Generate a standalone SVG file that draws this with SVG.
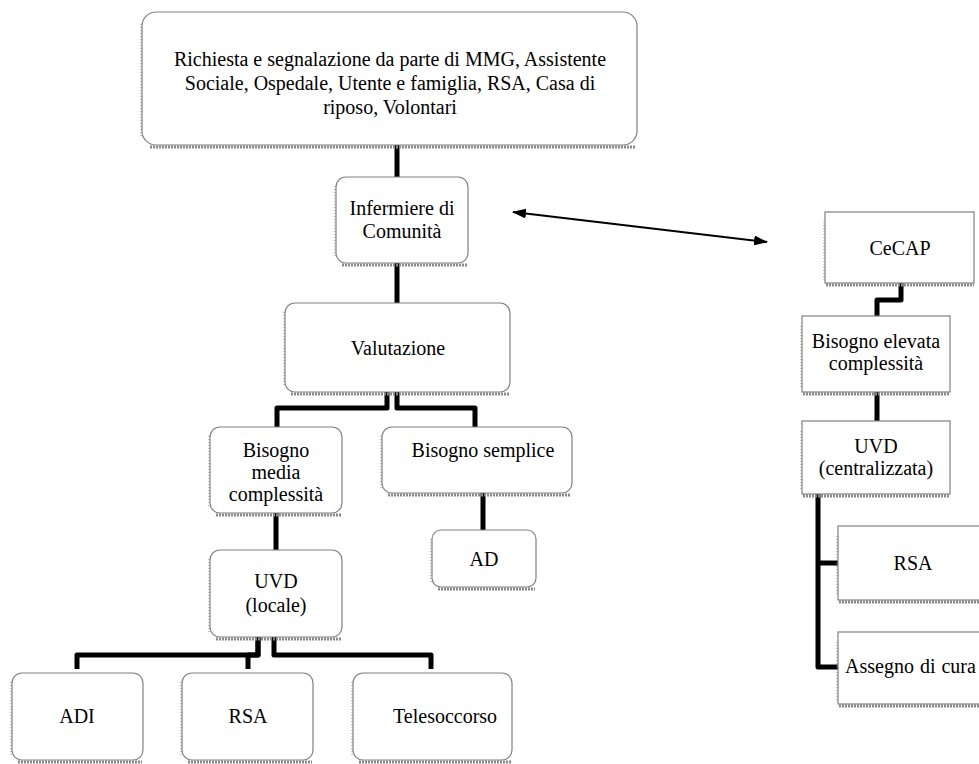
<svg xmlns="http://www.w3.org/2000/svg" width="979" height="764" viewBox="0 0 979 764">
<style>
.box{fill:#fff;stroke:#808080;stroke-width:1.2}
.sh{stroke:#8a8a8a;stroke-width:3;stroke-dasharray:2 1;fill:none}
.sl{stroke:#8a8a8a;stroke-width:1;stroke-dasharray:1 2;fill:none}
text{font-family:"Liberation Serif","Times New Roman",serif;font-size:20px;fill:#000;text-anchor:middle}
.con{fill:none;stroke:#000;stroke-width:5;stroke-linejoin:round;stroke-linecap:butt}
.arr{stroke:#000;stroke-width:2;fill:none}
</style>
<defs>
<marker id="ah" viewBox="0 0 14 10" refX="13" refY="5" markerWidth="14" markerHeight="10" markerUnits="userSpaceOnUse" orient="auto-start-reverse">
<path d="M0,0 L14,5 L0,10 Z" fill="#000"/>
</marker>
</defs>
<rect width="979" height="764" fill="#fff"/>
<g id="connectors">
<path class="con" d="M397,145 V177"/>
<path class="con" d="M397,263 V303"/>
<path class="con" d="M387,392 V408 H277 V427"/>
<path class="con" d="M397,392 V408 H475 V427"/>
<path class="con" d="M276,513 V550"/>
<path class="con" d="M483,493 V530"/>
<path class="con" d="M258,637 V655 H77 V669"/>
<path class="con" d="M258,637 V655 H248 V669"/>
<path class="con" d="M274,637 V655 H431 V669"/>
<path class="con" d="M901,283 V300 H877 V316"/>
<path class="con" d="M877,392 V421"/>
<path class="con" d="M818,494 V667 H838"/>
<path class="con" d="M818,563 H838"/>
<line class="arr" x1="513" y1="212" x2="767" y2="242" marker-start="url(#ah)" marker-end="url(#ah)"/>
</g>
<g id="n-richiesta">
<path class="sh" d="M150,147 H636"/><path class="sl" d="M141,24 V138"/>
<rect class="box" x="142" y="12" width="495" height="133" rx="14"/>
<text x="390" y="66">Richiesta e segnalazione da parte di MMG, Assistente</text>
<text x="390" y="90">Sociale, Ospedale, Utente e famiglia, RSA, Casa di</text>
<text x="390" y="114">riposo, Volontari</text>
</g>
<g id="n-infermiere">
<path class="sh" d="M342,265 H467"/><path class="sl" d="M335,186 V258"/>
<rect class="box" x="336" y="177" width="132" height="86" rx="10"/>
<text x="402" y="215">Infermiere di</text>
<text x="402" y="238">Comunità</text>
</g>
<g id="n-valutazione">
<path class="sh" d="M291,394 H509"/><path class="sl" d="M284,312 V387"/>
<rect class="box" x="285" y="303" width="225" height="89" rx="10"/>
<text x="398" y="355">Valutazione</text>
</g>
<g id="n-media">
<path class="sh" d="M216,515 H341"/><path class="sl" d="M209,436 V508"/>
<rect class="box" x="210" y="427" width="132" height="86" rx="10"/>
<text x="276" y="457">Bisogno</text>
<text x="276" y="479">media</text>
<text x="276" y="501">complessità</text>
</g>
<g id="n-semplice">
<path class="sh" d="M388,495 H571"/><path class="sl" d="M381,436 V488"/>
<rect class="box" x="382" y="427" width="190" height="66" rx="10"/>
<text x="483" y="457">Bisogno semplice</text>
</g>
<g id="n-uvd-locale">
<path class="sh" d="M216,639 H341"/><path class="sl" d="M209,559 V632"/>
<rect class="box" x="210" y="550" width="132" height="87" rx="10"/>
<text x="276" y="588">UVD</text>
<text x="276" y="612">(locale)</text>
</g>
<g id="n-ad">
<path class="sh" d="M438,589 H535"/><path class="sl" d="M431,539 V582"/>
<rect class="box" x="432" y="530" width="104" height="57" rx="9"/>
<text x="484" y="566">AD</text>
</g>
<g id="n-adi">
<path class="sh" d="M18,762 H142"/><path class="sl" d="M11,682 V755"/>
<rect class="box" x="12" y="673" width="131" height="87" rx="10"/>
<text x="77" y="723">ADI</text>
</g>
<g id="n-rsa1">
<path class="sh" d="M188,762 H312"/><path class="sl" d="M181,682 V755"/>
<rect class="box" x="182" y="673" width="131" height="87" rx="10"/>
<text x="248" y="723">RSA</text>
</g>
<g id="n-telesoccorso">
<path class="sh" d="M359,762 H511"/><path class="sl" d="M352,682 V755"/>
<rect class="box" x="353" y="673" width="159" height="87" rx="10"/>
<text x="393" y="723" style="text-anchor:start">Telesoccorso</text>
</g>
<g id="n-cecap">
<path class="sh" d="M826,285 H974"/><path class="sl" d="M824,222 V280"/>
<rect class="box" x="825" y="212" width="149" height="71"/>
<text x="900" y="255">CeCAP</text>
</g>
<g id="n-elevata">
<path class="sh" d="M803,394 H950"/><path class="sl" d="M801,326 V388"/>
<rect class="box" x="802" y="316" width="148" height="76"/>
<text x="876" y="348">Bisogno elevata</text>
<text x="876" y="370">complessità</text>
</g>
<g id="n-uvd-central">
<path class="sh" d="M803,496 H950"/><path class="sl" d="M801,431 V490"/>
<rect class="box" x="802" y="421" width="148" height="73"/>
<text x="876" y="453">UVD</text>
<text x="876" y="475">(centralizzata)</text>
</g>
<g id="n-rsa2">
<path class="sh" d="M839,602 H979"/><path class="sl" d="M837,536 V596"/>
<rect class="box" x="838" y="526" width="150" height="74"/>
<text x="913" y="570">RSA</text>
</g>
<g id="n-assegno">
<path class="sh" d="M839,706 H979"/><path class="sl" d="M837,642 V700"/>
<rect class="box" x="838" y="632" width="150" height="72"/>
<text x="845" y="673" style="text-anchor:start" word-spacing="1">Assegno di cura</text>
</g>
</svg>
